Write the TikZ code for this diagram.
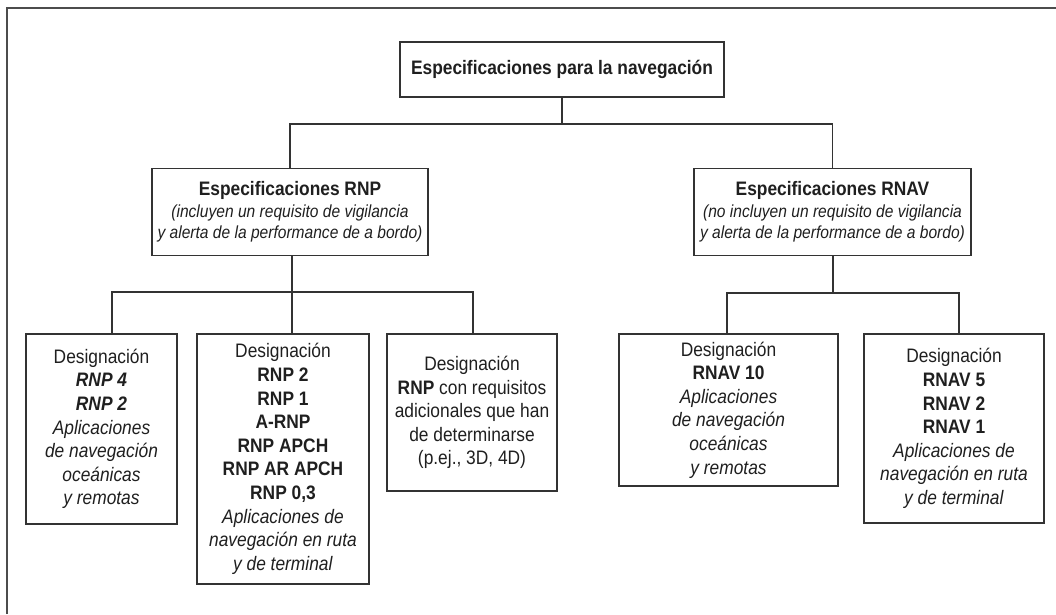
\documentclass[tikz,border=0pt]{standalone}
\usepackage{fontspec}
\setmainfont{Liberation Sans}[FakeStretch=0.89]
\begin{document}
\begin{tikzpicture}[x=1pt,y=-1pt,
  txt/.style={font=\fontsize{19.5}{23.6}\selectfont, text=black!88, align=center, inner sep=0pt},
  box/.style={txt, draw=black!80, line width=1.1pt, rectangle},
  conn/.style={draw=black!80, line width=1.1pt},
  frame/.style={draw=black!70, line width=2pt}]
\useasboundingbox (0,0) rectangle (1056,614);
% frame
\coordinate (f0) at (7,614);
\coordinate (f1) at (7,8);
\coordinate (f2) at (1056,8);
\draw[frame] (f0) -- (f1) -- (f2);
% nodes
\node[box, minimum width=324pt, minimum height=55pt] (top) at (562,69.5) {\textbf{Especificaciones para la navegación}};
\node[box, minimum width=276pt, minimum height=87pt, font=\fontsize{19.5}{21.5}\selectfont] (rnp) at (290,212)
  {\textbf{Especificaciones RNP}\\ {\fontsize{17.5}{21.5}\selectfont\textit{(incluyen un requisito de vigilancia}}\\ {\fontsize{17.5}{21.5}\selectfont\textit{y alerta de la performance de a bordo)}}};
\node[box, minimum width=277pt, minimum height=87pt, font=\fontsize{19.5}{21.5}\selectfont] (rnav) at (832.5,212)
  {\textbf{Especificaciones RNAV}\\ {\fontsize{17.5}{21.5}\selectfont\textit{(no incluyen un requisito de vigilancia}}\\ {\fontsize{17.5}{21.5}\selectfont\textit{y alerta de la performance de a bordo)}}};
\node[box, minimum width=151pt, minimum height=190pt] (c1) at (101.5,429)
  {Designación\\ \textbf{\textit{RNP 4}}\\ \textbf{\textit{RNP 2}}\\ \textit{Aplicaciones}\\ \textit{de navegación}\\ \textit{oceánicas}\\ \textit{y remotas}};
\node[box, minimum width=172pt, minimum height=250pt] (c2) at (283,459)
  {Designación\\ \textbf{RNP 2}\\ \textbf{RNP 1}\\ \textbf{A-RNP}\\ \textbf{RNP APCH}\\ \textbf{RNP AR APCH}\\ \textbf{RNP 0,3}\\ \textit{Aplicaciones de}\\ \textit{navegación en ruta}\\ \textit{y de terminal}};
\node[box, minimum width=170pt, minimum height=157pt] (c3) at (472,412.5)
  {Designación\\ \textbf{RNP} con requisitos\\ adicionales que han\\ de determinarse\\ (p.ej., 3D, 4D)};
\node[box, minimum width=219pt, minimum height=152pt] (c4) at (728.5,410)
  {Designación\\ \textbf{RNAV 10}\\ \textit{Aplicaciones}\\ \textit{de navegación}\\ \textit{oceánicas}\\ \textit{y remotas}};
\node[box, minimum width=180pt, minimum height=189pt] (c5) at (954,428.5)
  {Designación\\ \textbf{RNAV 5}\\ \textbf{RNAV 2}\\ \textbf{RNAV 1}\\ \textit{Aplicaciones de}\\ \textit{navegación en ruta}\\ \textit{y de terminal}};
% junction coordinates
\coordinate (b1) at (562,124);
\coordinate (j1) at (112,292);
\coordinate (j2) at (292,292);
\coordinate (j3) at (473,292);
\coordinate (k0) at (833,293);
\coordinate (k4) at (727,293);
\coordinate (k5) at (959,293);
% connectors
\draw[conn] (top.south) -- (b1);
\draw[conn] (rnp.north) |- (b1) -| (rnav.north);
\draw[conn] (rnp.south -| j2) -- (j2 |- c2.north);
\draw[conn] (j1 |- c1.north) -- (j1) -- (j3) -- (j3 |- c3.north);
\draw[conn] (rnav.south -| k0) -- (k0);
\draw[conn] (k4 |- c4.north) -- (k4) -- (k5) -- (k5 |- c5.north);
\end{tikzpicture}
\end{document}
